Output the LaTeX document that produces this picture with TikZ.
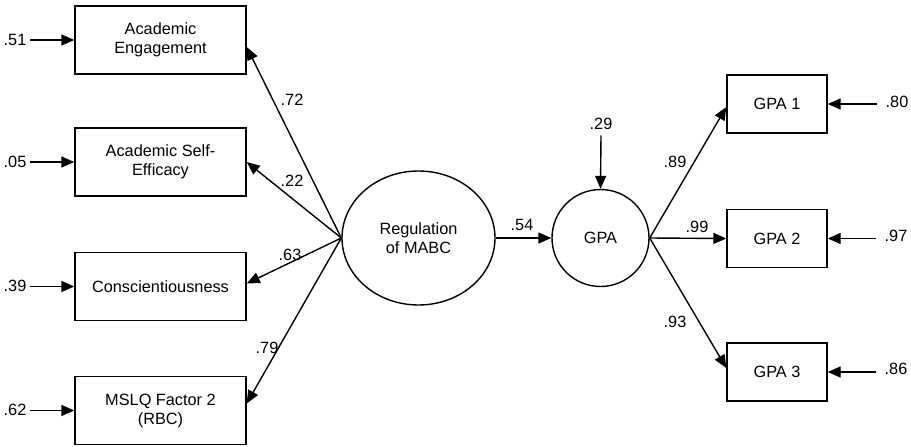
\documentclass[tikz,border=0pt]{standalone}
\usepackage{fontspec}
\setmainfont{Liberation Sans}
\usetikzlibrary{arrows.meta,calc,shapes.geometric}
\begin{document}
\begin{tikzpicture}[x=1pt,y=-1pt,
  line width=1.4pt,
  every node/.style={font=\fontsize{16.3}{19}\selectfont},
  obs/.style={draw,rectangle,minimum width=171pt,minimum height=68pt,align=center,inner sep=0pt},
  obsr/.style={draw,rectangle,minimum width=100pt,minimum height=58pt,align=center,inner sep=0pt},
  lbl/.style={inner sep=0pt},
  arr/.style={-{Triangle[length=13pt,width=11pt]}}]
\useasboundingbox (0,0) rectangle (911,447);
% observed (left)
\node[obs] (ae) at (160.5,40) {Academic\\Engagement};
\node[obs] (ase) at (160.5,162) {Academic Self-\\Efficacy};
\node[obs] (con) at (160.5,286.5) {Conscientiousness};
\node[obs] (mslq) at (160.5,410.5) {MSLQ Factor 2\\(RBC)};
% latent
\node[draw,ellipse,minimum width=153pt,minimum height=134pt,inner sep=0pt,align=center] (reg) at (418.5,238) {Regulation\\of MABC};
\node[draw,circle,minimum size=97pt,inner sep=0pt] (gpa) at (600.5,238) {GPA};
% observed (right)
\node[obsr] (g1) at (777,104) {GPA 1};
\node[obsr] (g2) at (777,238.5) {GPA 2};
\node[obsr] (g3) at (777,372) {GPA 3};
% error labels
\node[lbl] (e1) at (15,40) {.51};
\node[lbl] (e2) at (15,162) {.05};
\node[lbl] (e3) at (15,286) {.39};
\node[lbl] (e4) at (15,410) {.62};
\node[lbl] (e5) at (897,102) {.80};
\node[lbl] (e6) at (896,236) {.97};
\node[lbl] (e7) at (896,369) {.86};
\node[lbl] (e8) at (601,124) {.29};
% error arrows
\draw[arr] ([xshift=3pt]e1.east |- ae.west) -- (ae.west);
\draw[arr] ([xshift=3pt]e2.east |- ase.west) -- (ase.west);
\draw[arr] ([xshift=3pt]e3.east |- con.west) -- (con.west);
\draw[arr] ([xshift=3pt]e4.east |- mslq.west) -- (mslq.west);
\draw[arr] ([xshift=-8pt]e5.west |- g1.east) -- (g1.east);
\draw[arr] ([xshift=-8pt]e6.west |- g2.east) -- (g2.east);
\draw[arr] ([xshift=-8pt]e7.west |- g3.east) -- (g3.east);
\draw[arr] ([yshift=-5pt]e8.south) -- (gpa.north);
% loadings
\draw[arr] (reg.west) -- ([yshift=-7pt]ae.east);
\draw[arr] (reg.west) -- (ase.east);
\draw[arr] (reg.west) -- ([yshift=3pt]con.east);
\draw[arr] (reg.west) -- ([yshift=7pt]mslq.east);
\draw[arr] (reg.east) -- (gpa.west);
\draw[arr] (gpa.east) -- ([yshift=-3pt]g1.west);
\draw[arr] (gpa.east) -- (g2.west);
\draw[arr] (gpa.east) -- ([yshift=4pt]g3.west);
% path labels
\node[lbl] (l1) at (292,100) {.72};
\node[lbl] (l2) at (292,181) {.22};
\node[lbl] (l3) at (290,255) {.63};
\node[lbl] (l4) at (267,348) {.79};
\node[lbl] (l5) at (522,225) {.54};
\node[lbl] (l6) at (675,162) {.89};
\node[lbl] (l7) at (697,227) {.99};
\node[lbl] (l8) at (675,322) {.93};
\end{tikzpicture}
\end{document}
